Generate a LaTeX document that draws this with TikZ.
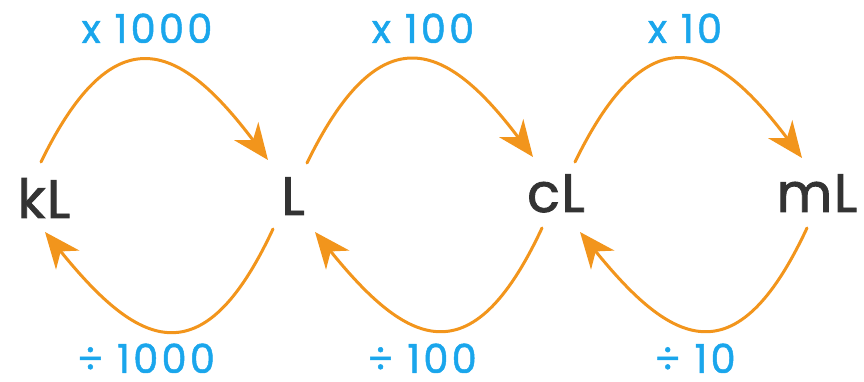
\documentclass[tikz,border=0pt]{standalone}
\usepackage{fontspec}
\setmainfont{Poppins}
\newfontfamily\unitfont{Poppins}[FakeBold=1.6, LetterSpace=3]
\newfontfamily\lblfont{Poppins}[FakeBold=1.2, LetterSpace=8]
\usetikzlibrary{arrows.meta}
\definecolor{arcorange}{HTML}{F2951C}
\definecolor{lblblue}{HTML}{1AA6EC}
\definecolor{unitgray}{HTML}{333333}
\begin{document}
\begin{tikzpicture}[x=1pt,y=1pt,
  unit/.style={font=\unitfont\fontsize{54}{54}\selectfont, text=unitgray, inner sep=0pt, anchor=base},
  lbl/.style={font=\lblfont\fontsize{40}{40}\selectfont, text=lblblue, inner sep=0pt, text depth=0pt, anchor=base},
  conv/.style={draw=arcorange, line width=3pt, line cap=round,
    -{Stealth[length=36pt,width=30pt,inset=11pt]}},
  upper/.style={out=64, in=127, out looseness=1.9, in looseness=1.62},
  lower/.style={out=245, in=309, out looseness=1.9, in looseness=1.62}]
\useasboundingbox (0,0) rectangle (864,382);
% units
\node[unit] (kL) at (44,164) {kL};
\node[unit] (L)  at (293,167) {L};
\node[unit] (cL) at (556,170) {cL};
\node[unit] (mL) at (817,170) {mL};
% labels
\node[lbl] (m1000) at (147,339) {x 1000};
\node[lbl] (m100)  at (423,339) {x 100};
\node[lbl] (m10)   at (685,339) {x 10};
\node[lbl] (d1000) at (146,9) {÷ 1000};
\node[lbl] (d100)  at (422,9) {÷ 100};
\node[lbl] (d10)   at (695,9) {÷ 10};
% conversions
\draw[conv] ([shift={(-3,56)}]kL.base) to[upper] ([shift={(-25,55)}]L.base);
\draw[conv] ([shift={(14,52)}]L.base) to[upper] ([shift={(-23,55)}]cL.base);
\draw[conv] ([shift={(19,50)}]cL.base) to[upper] ([shift={(-15,54)}]mL.base);
\draw[conv] ([shift={(-20,-14)}]L.base) to[lower] ([shift={(1,-14)}]kL.base);
\draw[conv] ([shift={(-14,-16)}]cL.base) to[lower] ([shift={(22,-17)}]L.base);
\draw[conv] ([shift={(-10,-16)}]mL.base) to[lower] ([shift={(24,-20)}]cL.base);
\end{tikzpicture}
\end{document}
